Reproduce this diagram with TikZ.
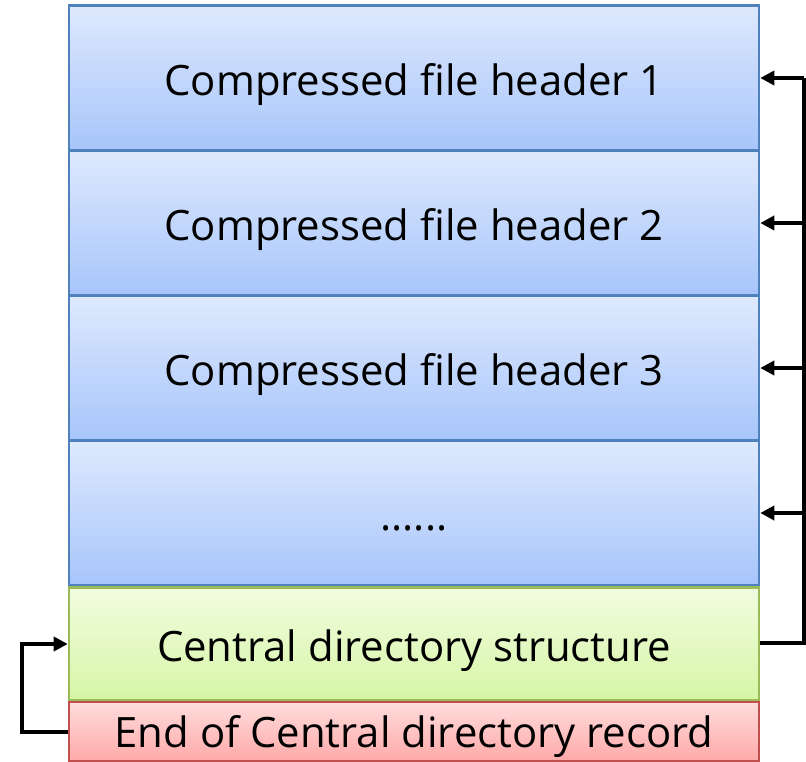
\documentclass[tikz,border=0pt]{standalone}
\usepackage{fontspec}
\setmainfont{Open Sans}
\definecolor{blueTop}{HTML}{DEE9FD}
\definecolor{blueBot}{HTML}{A7C5FB}
\definecolor{blueLine}{HTML}{4F81BD}
\definecolor{greenTop}{HTML}{F1FCE0}
\definecolor{greenBot}{HTML}{D7F6A6}
\definecolor{greenLine}{HTML}{9BBB59}
\definecolor{redTop}{HTML}{FFDCDC}
\definecolor{redBot}{HTML}{FFA9A9}
\definecolor{redLine}{HTML}{C0504D}
\tikzset{
  block/.style={draw,line width=2.5bp,inner sep=0pt,minimum width=690bp,
    text height=34bp,text depth=0bp,font=\fontsize{42}{46}\selectfont},
  hdr/.style={block,draw=blueLine,top color=blueTop,bottom color=blueBot,minimum height=145bp},
  cdir/.style={block,draw=greenLine,top color=greenTop,bottom color=greenBot,minimum height=113bp},
  eocd/.style={block,draw=redLine,top color=redTop,bottom color=redBot,minimum height=59bp,text height=31bp},
  link/.style={line width=3.5bp,-{Triangle[length=14bp,width=14bp]}},
}
\usetikzlibrary{arrows.meta}
\begin{document}
\begin{tikzpicture}[x=1bp,y=-1bp]
\useasboundingbox (0,0) rectangle (806,762);
%%
\node (hdr_1) at (414,78) [hdr] {Compressed file header 1};
  \node (hdr_2) at (414,223) [hdr] {Compressed file header 2};
  \node (hdr_3) at (414,368) [hdr] {Compressed file header 3};
  \node (hdr_4) at (414,513) [hdr] {......};
  \node (cdir) at (414,644) [cdir] {Central directory structure};
  \node (eocd) at (414,731.5) [eocd] {End of Central directory record};
  \coordinate (rail_top) at (804,78);
  \coordinate (rail_bot) at (804,643);
  \coordinate (rail_left) at (22,732);
  \draw [line width=3.5bp] (cdir.east |- rail_bot) -- (rail_bot) -- (rail_top);
  \draw [link] (rail_top) -- (hdr_1.east);
  \draw [link] (rail_top |- hdr_2.east) -- (hdr_2.east);
  \draw [link] (rail_top |- hdr_3.east) -- (hdr_3.east);
  \draw [link] (rail_top |- hdr_4.east) -- (hdr_4.east);
  \draw [link] (eocd.west |- rail_left) -- (rail_left) |- (cdir.west);
%
\end{tikzpicture}
\end{document}
